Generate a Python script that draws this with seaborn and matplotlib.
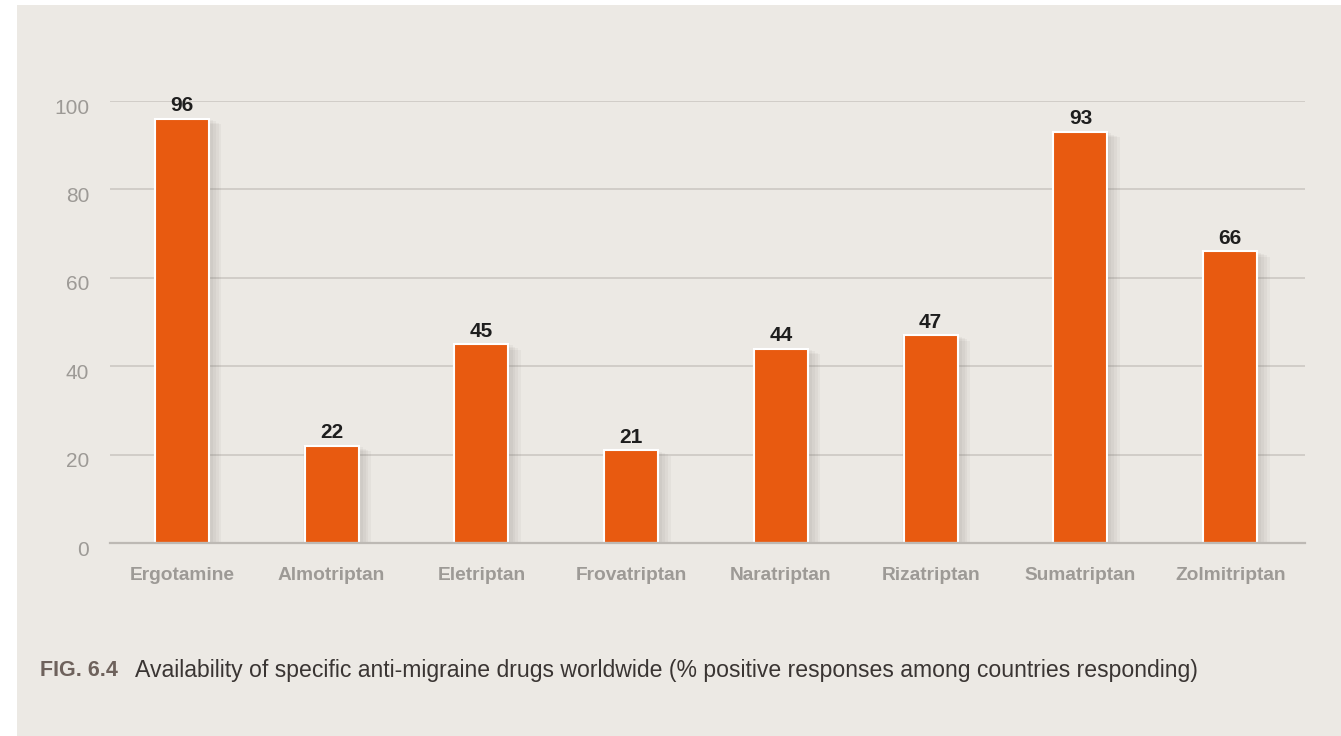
import matplotlib
matplotlib.use("Agg")
import matplotlib.pyplot as plt
import matplotlib.patheffects as pe
import matplotlib.transforms as mtransforms
from matplotlib.patches import Rectangle
import seaborn as sns
import pandas as pd

drugs = ["Ergotamine", "Almotriptan", "Eletriptan", "Frovatriptan",
         "Naratriptan", "Rizatriptan", "Sumatriptan", "Zolmitriptan"]
values = [96, 22, 45, 21, 44, 47, 93, 66]
yticks = [0, 20, 40, 60, 80, 100]

df = pd.DataFrame({"drug": drugs, "value": values})

sns.set_theme(style="white")
plt.rcParams['font.family'] = ['Liberation Sans', 'DejaVu Sans']

BG = "#ECE9E4"
ORANGE = "#E85A10"

fig = plt.figure(figsize=(13.41, 7.36), dpi=100)
fig.patch.set_facecolor("white")
fig.patches.append(Rectangle((17/1341, 0), 1 - 17/1341, 1 - 5/736,
                             transform=fig.transFigure, facecolor=BG,
                             edgecolor="none", zorder=-10))

ax = fig.add_axes([110/1341, 1 - 543/736, (1305 - 110)/1341, (543 - 101)/736])
ax.set_facecolor("none")

sns.barplot(data=df, x="drug", y="value", color=ORANGE, saturation=1,
            width=0.36, edgecolor="white", linewidth=1.5, ax=ax, zorder=3)

# soft drop shadow built from several faint offset layers
shadow_fx = []
for dx, dy in [(9, -4), (7, -3), (5, -2), (3, -1), (1, 0), (-1, 0)]:
    shadow_fx.append(pe.SimplePatchShadow(offset=(dx, dy), shadow_rgbFace="#6e6862", alpha=0.06))
shadow_fx.append(pe.Normal())
for p in ax.patches:
    p.set_path_effects(shadow_fx)

for i, v in enumerate(values):
    ax.text(i, v + 0.8, str(v), ha="center", va="bottom", fontsize=15,
            fontweight="bold", color="#1e1e1e")

ax.set_xlim(-0.48, 7.5)
ax.set_ylim(0, 100)
ax.set_yticks(yticks)
ax.set_yticklabels([str(t) for t in yticks], fontsize=15, color="#9d9a96")
ax.set_xticks(range(len(drugs)))
ax.set_xticklabels(drugs, fontsize=13.8, fontweight="bold", color="#9d9a96")
ax.tick_params(axis="x", length=0, pad=17)
ax.tick_params(axis="y", length=0, pad=15)
ax.set_xlabel("")
ax.set_ylabel("")

shift = mtransforms.ScaledTranslation(0, -5/100, fig.dpi_scale_trans)
for lab in ax.get_yticklabels():
    lab.set_transform(lab.get_transform() + shift)

ax.yaxis.grid(True, color="#c9c5c0", linewidth=1.1, zorder=0)
ax.set_axisbelow(True)
for s in ["top", "right", "left"]:
    ax.spines[s].set_visible(False)
ax.spines["bottom"].set_color("#bdb9b4")
ax.spines["bottom"].set_linewidth(1.6)
ax.spines["bottom"].set_zorder(4)

fig.text(40/1341, 1 - 670/736, "FIG. 6.4", fontsize=15.5, fontweight="bold",
         color="#6e625c", va="center", ha="left")
fig.text(135/1341, 1 - 670/736,
         "Availability of specific anti-migraine drugs worldwide (% positive responses among countries responding)",
         fontsize=16.6, color="#3a3533", va="center", ha="left")

fig.savefig("out.png", dpi=100, facecolor=fig.get_facecolor())
